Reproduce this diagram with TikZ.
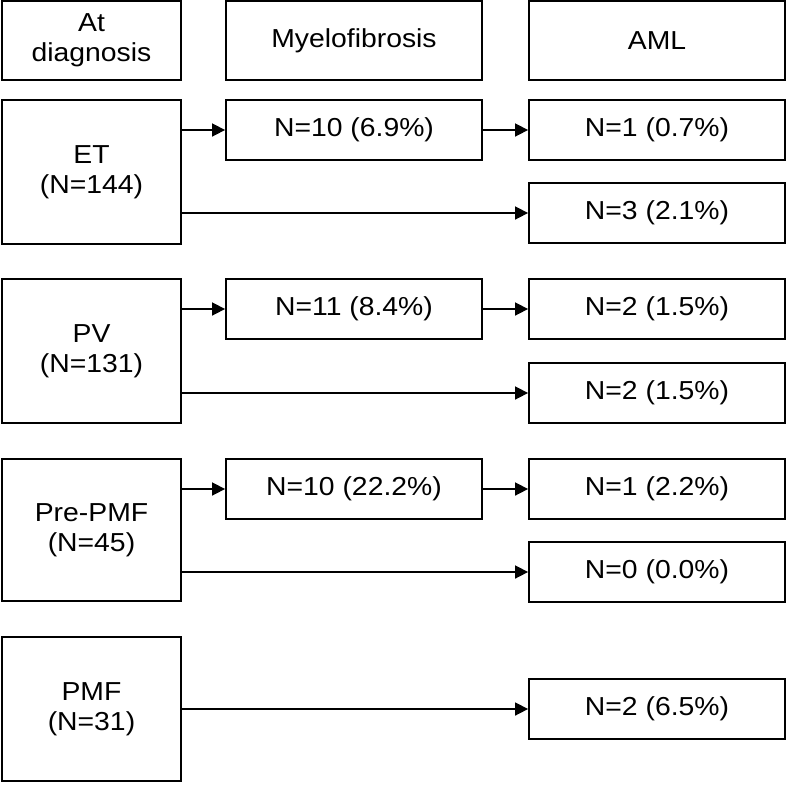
\documentclass[tikz,border=0pt]{standalone}
\usepackage{fontspec}
\setmainfont{Liberation Sans}[FakeStretch=1.09]
\usetikzlibrary{arrows.meta}
\tikzset{
  box/.style={draw, line width=1.8pt, inner sep=0pt, align=center,
    font=\fontsize{26}{30}\selectfont},
  lbox/.style={box, minimum width=179pt, minimum height=144pt},
  mbox/.style={box, minimum width=256pt, minimum height=60pt},
  arr/.style={line width=1.6pt, -{Triangle[length=13pt,width=13pt]}}
}
\begin{document}
\begin{tikzpicture}[x=1pt,y=-1pt]
\useasboundingbox (0,0) rectangle (790,785);
% headers
\node[box, minimum width=179pt, minimum height=79pt] (hA) at (91.5,40.5) {At\\diagnosis};
\node[box, minimum width=256pt, minimum height=79pt] (hM) at (354,40.5) {Myelofibrosis};
\node[box, minimum width=256pt, minimum height=79pt] (hL) at (657,40.5) {AML};
% ET
\node[lbox] (et) at (91.5,172) {ET\\(N=144)};
\node[mbox] (mf1) at (354,130) {N=10 (6.9\%)};
\node[mbox] (a1a) at (657,130) {N=1 (0.7\%)};
\node[mbox] (a1b) at (657,213) {N=3 (2.1\%)};
% PV
\node[lbox] (pv) at (91.5,351) {PV\\(N=131)};
\node[mbox] (mf2) at (354,309) {N=11 (8.4\%)};
\node[mbox] (a2a) at (657,309) {N=2 (1.5\%)};
\node[mbox] (a2b) at (657,393) {N=2 (1.5\%)};
% Pre-PMF
\node[lbox, minimum height=142pt] (pp) at (91.5,530) {Pre-PMF\\(N=45)};
\node[mbox] (mf3) at (354,489) {N=10 (22.2\%)};
\node[mbox] (a3a) at (657,489) {N=1 (2.2\%)};
\node[mbox] (a3b) at (657,572) {N=0 (0.0\%)};
% PMF
\node[lbox] (pmf) at (91.5,709) {PMF\\(N=31)};
\node[mbox] (a4) at (657,709) {N=2 (6.5\%)};
% arrows
\draw[arr] (et.east |- mf1.west) -- (mf1.west);
\draw[arr] (mf1.east) -- (a1a.west);
\draw[arr] (et.east |- a1b.west) -- (a1b.west);
\draw[arr] (pv.east |- mf2.west) -- (mf2.west);
\draw[arr] (mf2.east) -- (a2a.west);
\draw[arr] (pv.east |- a2b.west) -- (a2b.west);
\draw[arr] (pp.east |- mf3.west) -- (mf3.west);
\draw[arr] (mf3.east) -- (a3a.west);
\draw[arr] (pp.east |- a3b.west) -- (a3b.west);
\draw[arr] (pmf.east |- a4.west) -- (a4.west);
\end{tikzpicture}
\end{document}
